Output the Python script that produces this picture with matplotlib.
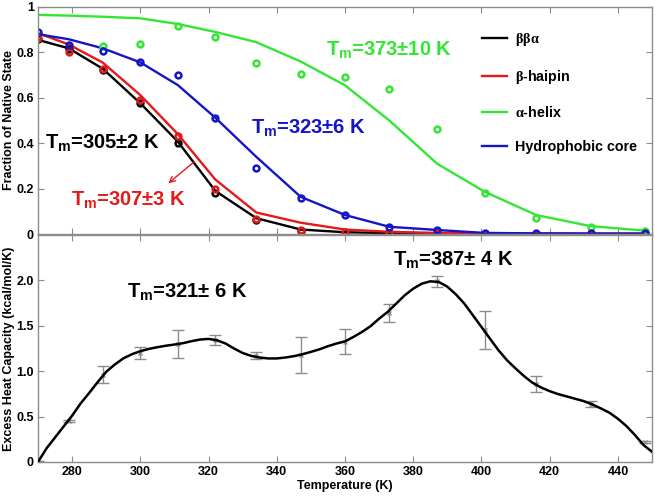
import matplotlib
matplotlib.use('Agg')
import matplotlib.pyplot as plt

plt.rcParams['font.family'] = ['Liberation Sans', 'DejaVu Sans']
plt.rcParams['font.weight'] = 'bold'
plt.rcParams['axes.labelweight'] = 'bold'
plt.rcParams['mathtext.fontset'] = 'custom'
plt.rcParams['mathtext.rm'] = 'Liberation Serif'
plt.rcParams['mathtext.sf'] = 'Liberation Sans'

BLACK = '#000000'
RED = '#e41a1a'
GREEN = '#33e633'
BLUE = '#1414c8'
GRAY = '#8c8c8c'

# temperatures of the simulation replicas (K)
temps = [270, 279, 289, 300, 311, 322, 334, 347, 360, 373, 387, 401, 416, 432, 448]

# fraction of native state, fitted curves
bba_fit = [0.855, 0.818, 0.728, 0.576, 0.407, 0.19, 0.07, 0.02, 0.008, 0.004, 0.002, 0.001, 0.001, 0.001, 0.001]
hairpin_fit = [0.885, 0.835, 0.755, 0.612, 0.44, 0.24, 0.095, 0.05, 0.02, 0.01, 0.005, 0.003, 0.002, 0.001, 0.001]
helix_fit = [0.965, 0.962, 0.957, 0.95, 0.925, 0.89, 0.845, 0.76, 0.655, 0.5, 0.31, 0.186, 0.084, 0.035, 0.015]
core_fit = [0.88, 0.858, 0.818, 0.756, 0.656, 0.512, 0.34, 0.164, 0.084, 0.032, 0.018, 0.005, 0.003, 0.002, 0.002]

# fraction of native state, simulation points
bba_pts = [0.86, 0.815, 0.722, 0.576, 0.40, 0.18, 0.062, 0.015, 0.005, 0.003, 0.002, 0.002, 0.002, 0.002, 0.002]
hairpin_pts = [0.863, 0.80, 0.727, 0.59, 0.43, 0.197, 0.065, 0.02, 0.008, 0.004, 0.003, 0.002, 0.002, 0.002, 0.002]
helix_temps = [289, 300, 311, 322, 334, 347, 360, 373, 387, 401, 416, 432, 448]
helix_pts = [0.83, 0.837, 0.916, 0.868, 0.755, 0.705, 0.69, 0.639, 0.461, 0.183, 0.069, 0.03, 0.015]
core_pts = [0.889, 0.833, 0.807, 0.756, 0.70, 0.512, 0.292, 0.158, 0.084, 0.032, 0.018, 0.005, 0.003, 0.003, 0.003]

# excess heat capacity (kcal/mol/K)
cv_vals = [0.0, 0.455, 0.96, 1.2, 1.295, 1.345, 1.17, 1.18, 1.325, 1.64, 1.99, 1.45, 0.86, 0.64, 0.22]
cv_errs = [0.01, 0.01, 0.095, 0.068, 0.155, 0.057, 0.04, 0.195, 0.14, 0.097, 0.058, 0.21, 0.09, 0.033, 0.012]
curve_t = [270, 272.5, 275, 277.5, 280, 282.5, 285, 287.5, 290, 292.5, 295, 297.5, 300, 302.5, 305, 307.5,
           310, 312.5, 315, 317.5, 320, 322.5, 325, 327.5, 330, 332.5, 335, 337.5, 340, 342.5, 345, 347.5,
           350, 352.5, 355, 357.5, 360, 362.5, 365, 367.5, 370, 372.5, 375, 377.5, 380, 382.5, 385, 387.5,
           390, 392.5, 395, 397.5, 400, 402.5, 405, 407.5, 410, 412.5, 415, 417.5, 420, 422.5, 425, 427.5,
           430, 432.5, 435, 437.5, 440, 442.5, 445, 447.5, 450]
curve_cv = [0.0, 0.15, 0.27, 0.39, 0.51, 0.645, 0.76, 0.88, 0.993, 1.073, 1.14, 1.186, 1.22, 1.245, 1.264, 1.28,
            1.293, 1.308, 1.33, 1.348, 1.355, 1.34, 1.304, 1.249, 1.2, 1.168, 1.15, 1.14, 1.14, 1.15, 1.165, 1.186,
            1.212, 1.24, 1.275, 1.304, 1.328, 1.377, 1.432, 1.495, 1.578, 1.652, 1.743, 1.835, 1.908, 1.963, 1.989, 1.982,
            1.93, 1.846, 1.743, 1.615, 1.487, 1.358, 1.23, 1.12, 1.03, 0.945, 0.872, 0.82, 0.78, 0.747, 0.722, 0.696,
            0.67, 0.634, 0.59, 0.543, 0.476, 0.396, 0.297, 0.187, 0.113]

fig = plt.figure(figsize=(6.55, 4.98), dpi=100)
ax1 = fig.add_axes([0.058, 0.530, 0.9374, 0.456])
ax2 = fig.add_axes([0.058, 0.0723, 0.9374, 0.456])

mk = dict(ls='none', marker='o', ms=4.2, mfc='none', mew=1.8)
ax1.plot(temps, bba_fit, color=BLACK, lw=1.7, label=r'$\mathrm{\beta\beta\alpha}$')
ax1.plot(temps, hairpin_fit, color=RED, lw=1.7, label=r'$\mathrm{\beta}$-haipin')
ax1.plot(temps, helix_fit, color=GREEN, lw=1.7, label=r'$\mathrm{\alpha}$-helix')
ax1.plot(temps, core_fit, color=BLUE, lw=1.7, label='Hydrophobic core')
ax1.plot(temps, bba_pts, color=BLACK, **mk)
ax1.plot(temps, hairpin_pts, color=RED, **mk)
ax1.plot(helix_temps, helix_pts, color=GREEN, **mk)
ax1.plot(temps, core_pts, color=BLUE, **mk)

ax1.legend(loc='upper left', bbox_to_anchor=(0.723, 0.895), frameon=False, fontsize=10.3,
           handlelength=1.75, handletextpad=0.55, labelspacing=1.38, borderpad=0, borderaxespad=0)

tfs = 14.5
ax1.text(272, 0.40, r'T$_\mathsf{m}$=305±2 K', color=BLACK, fontsize=tfs, va='center')
ax1.text(279.6, 0.15, r'T$_\mathsf{m}$=307±3 K', color=RED, fontsize=tfs, va='center')
ax1.text(332.3, 0.465, r'T$_\mathsf{m}$=323±6 K', color=BLUE, fontsize=tfs, va='center')
ax1.text(354.3, 0.81, r'T$_\mathsf{m}$=373±10 K', color=GREEN, fontsize=tfs, va='center')
ax1.annotate('', xy=(307.6, 0.216), xytext=(316.4, 0.326),
             arrowprops=dict(arrowstyle='->', color=RED, lw=1.0))

ax1.set_ylim(0, 1.0)
ax1.set_yticks([0, 0.2, 0.4, 0.6, 0.8, 1.0])
ax1.set_yticklabels(['0', '0.2', '0.4', '0.6', '0.8', '1'])
ax1.tick_params(labelbottom=False)

ax2.errorbar(temps, cv_vals, yerr=cv_errs, fmt='x', ms=3, color=GRAY, ecolor=GRAY,
             elinewidth=1.0, capsize=4.5, capthick=1.0, zorder=2)
ax2.plot(curve_t, curve_cv, color=BLACK, lw=1.8, zorder=3)
ax2.text(296.2, 1.87, r'T$_\mathsf{m}$=321± 6 K', color=BLACK, fontsize=tfs, va='center')
ax2.text(374.1, 2.22, r'T$_\mathsf{m}$=387± 4 K', color=BLACK, fontsize=tfs, va='center')
ax2.set_ylim(0, 2.5)
ax2.set_yticks([0, 0.5, 1.0, 1.5, 2.0])
ax2.set_yticklabels(['0', '0.5', '1.0', '1.5', '2.0'])
ax2.set_xlabel('Temperature (K)', fontsize=9, labelpad=1)

for ax in (ax1, ax2):
    ax.set_xlim(270, 450)
    ax.set_xticks([280, 300, 320, 340, 360, 380, 400, 420, 440])
    ax.tick_params(direction='in', top=True, right=True, length=4, color=GRAY,
                   labelsize=9, pad=3)
    for lab in ax.get_xticklabels() + ax.get_yticklabels():
        lab.set_fontweight('bold')
    for s in ax.spines.values():
        s.set_color(GRAY)
        s.set_linewidth(1.0)

fig.text(0.013, 0.759, 'Fraction of Native State', rotation=90, ha='center', va='center',
         fontsize=9, fontweight='bold')
fig.text(0.013, 0.30, 'Excess Heat Capacity (kcal/mol/K)', rotation=90, ha='center', va='center',
         fontsize=9, fontweight='bold')

fig.savefig('out.png', dpi=100)
